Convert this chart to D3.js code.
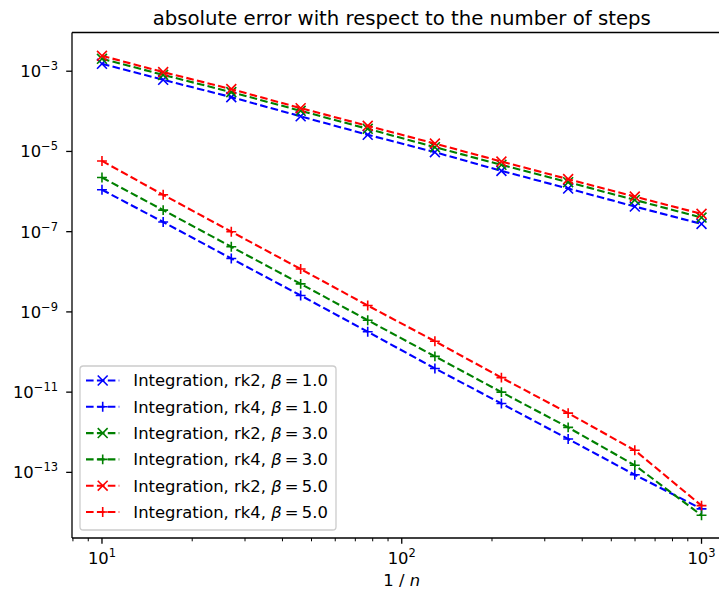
<!DOCTYPE html>
<html>
<head>
<meta charset="utf-8">
<script src="https://cdn.jsdelivr.net/npm/d3@7"></script>
<style>
html,body{margin:0;padding:0;background:#fff;}
svg{display:block;font-family:"DejaVu Sans",sans-serif;}
</style>
</head>
<body>
<svg id="chart" width="719" height="591"></svg>
<script>
// ---- data ----
const steps = [10, 16, 27, 46, 77, 129, 215, 359, 599, 1000];
const rk2_b1 = [1.53e-3, 6.1e-4, 2.26e-4, 7.5e-5, 2.6e-5, 9.6e-6, 3.28e-6, 1.19e-6, 4.23e-7, 1.56e-7];
const rk4_b1 = [1.11e-6, 1.74e-7, 2.14e-8, 2.57e-9, 3.2e-10, 3.9e-11, 5.2e-12, 6.8e-13, 8.7e-14, 1.23e-14];
const rk2_b3 = [2.04e-3, 8.1e-4, 3.01e-4, 1.03e-4, 3.66e-5, 1.28e-5, 4.63e-6, 1.71e-6, 6.18e-7, 2.25e-7];
const rk4_b3 = [2.24e-6, 3.45e-7, 4.2e-8, 5.0e-9, 6.2e-10, 7.8e-11, 1.0e-11, 1.32e-12, 1.5e-13, 8.5e-15];
const rk2_b5 = [2.42e-3, 9.5e-4, 3.58e-4, 1.20e-4, 4.35e-5, 1.57e-5, 5.6e-6, 2.04e-6, 7.5e-7, 2.78e-7];
const rk4_b5 = [5.8e-6, 8.3e-7, 1.0e-7, 1.17e-8, 1.44e-9, 1.86e-10, 2.3e-11, 3.0e-12, 3.55e-13, 1.48e-14];
const seriesNames = ["rk2", "rk4", "rk2", "rk4", "rk2", "rk4"];
const seriesBetas = ["1.0", "1.0", "3.0", "3.0", "5.0", "5.0"];
const seriesColors = ["#0000ff", "#0000ff", "#008000", "#008000", "#ff0000", "#ff0000"];
const seriesMarkers = ["x", "+", "x", "+", "x", "+"];
const seriesValues = [rk2_b1, rk4_b1, rk2_b3, rk4_b3, rk2_b5, rk4_b5];
const xMajorTicks = [10, 100, 1000];
const xMajorExp = ["1", "2", "3"];
const yMajorTicks = [1e-3, 1e-5, 1e-7, 1e-9, 1e-11, 1e-13];
const yMajorExp = ["\u22123", "\u22125", "\u22127", "\u22129", "\u221211", "\u221213"];
const titleText = "absolute error with respect to the number of steps";

// ---- layout ----
const L = 72, R = 731.5, T = 32.5, B = 538;
const FS = 16.4;
const svg = d3.select("#chart");

const x = d3.scaleLog().domain([Math.pow(10, 0.9), Math.pow(10, 3.1)]).range([L, R]);
const y = d3.scaleLog().domain([Math.pow(10, -14.636), Math.pow(10, -2.035)]).range([B, T]);

const clip = svg.append("defs").append("clipPath").attr("id", "clipArea")
  .append("rect").attr("x", L).attr("y", T).attr("width", R - L).attr("height", B - T);

const plot = svg.append("g").attr("clip-path", "url(#clipArea)");

const line = d3.line().x(d => x(d[0])).y(d => y(d[1]));

function markerPath(type, cx, cy, s) {
  const h = s / 2;
  if (type === "x") return `M${cx-h},${cy-h}L${cx+h},${cy+h}M${cx-h},${cy+h}L${cx+h},${cy-h}`;
  return `M${cx-h},${cy}L${cx+h},${cy}M${cx},${cy-h}L${cx},${cy+h}`;
}

seriesValues.forEach((vals, i) => {
  const pts = steps.map((s, j) => [s, vals[j]]);
  plot.append("path").attr("d", line(pts)).attr("fill", "none")
    .attr("stroke", seriesColors[i]).attr("stroke-width", 2.1)
    .attr("stroke-dasharray", "7.6,3.3");
  plot.append("path")
    .attr("d", pts.map(p => markerPath(seriesMarkers[i], x(p[0]), y(p[1]), 9.9)).join(""))
    .attr("stroke", seriesColors[i]).attr("stroke-width", 1.6).attr("fill", "none");
});

// ---- axes ----
const axG = svg.append("g");
// spines
axG.append("line").attr("x1", L).attr("x2", L).attr("y1", T).attr("y2", B).attr("stroke", "#000").attr("stroke-width", 1.3);
axG.append("line").attr("x1", L).attr("x2", R).attr("y1", B).attr("y2", B).attr("stroke", "#000").attr("stroke-width", 1.3);
axG.append("line").attr("x1", L).attr("x2", R).attr("y1", T).attr("y2", T).attr("stroke", "#000").attr("stroke-width", 1.3);
axG.append("line").attr("x1", R).attr("x2", R).attr("y1", T).attr("y2", B).attr("stroke", "#000").attr("stroke-width", 1.3);

// x ticks
const xMinor = [];
[1, 10, 100, 1000].forEach(d => { for (let k = 2; k <= 9; k++) { const v = d * k; if (v >= x.domain()[0] && v <= x.domain()[1]) xMinor.push(v); } });
xMinor.forEach(v => {
  axG.append("line").attr("x1", x(v)).attr("x2", x(v)).attr("y1", B).attr("y2", B + 3.3).attr("stroke", "#000").attr("stroke-width", 1.0);
});
xMajorTicks.forEach((v, i) => {
  axG.append("line").attr("x1", x(v)).attr("x2", x(v)).attr("y1", B).attr("y2", B + 5.8).attr("stroke", "#000").attr("stroke-width", 1.3);
  const t = axG.append("text").attr("x", x(v)).attr("y", 563.5).attr("text-anchor", "middle").attr("font-size", FS);
  t.append("tspan").text("10");
  t.append("tspan").attr("dy", -7).attr("font-size", FS * 0.7).text(xMajorExp[i]);
});

// y ticks
yMajorTicks.forEach((v, i) => {
  axG.append("line").attr("x1", L - 5.8).attr("x2", L).attr("y1", y(v)).attr("y2", y(v)).attr("stroke", "#000").attr("stroke-width", 1.3);
  const t = axG.append("text").attr("x", 58).attr("y", y(v) + 6).attr("text-anchor", "end").attr("font-size", FS);
  t.append("tspan").text("10");
  t.append("tspan").attr("dy", -7).attr("font-size", FS * 0.7).text(yMajorExp[i]);
});

// title & label
svg.append("text").attr("x", (L + R) / 2).attr("y", 25).attr("text-anchor", "middle")
  .attr("font-size", 19.7).text(titleText);
const xl = svg.append("text").attr("x", (L + R) / 2).attr("y", 586).attr("text-anchor", "middle").attr("font-size", FS);
xl.append("tspan").text("1 / ");
xl.append("tspan").attr("font-style", "italic").text("n");

// ---- legend ----
const lg = svg.append("g");
lg.append("rect").attr("x", 80).attr("y", 366).attr("width", 256).attr("height", 164)
  .attr("rx", 3.3).attr("ry", 3.3).attr("fill", "rgba(255,255,255,0.8)")
  .attr("stroke", "#cccccc").attr("stroke-width", 1.3);
seriesValues.forEach((vals, i) => {
  const cy = 380.5 + i * 26.3;
  lg.append("line").attr("x1", 86).attr("x2", 119.3).attr("y1", cy).attr("y2", cy)
    .attr("stroke", seriesColors[i]).attr("stroke-width", 2.1).attr("stroke-dasharray", "7.6,3.3");
  lg.append("path").attr("d", markerPath(seriesMarkers[i], 102.7, cy, 9.9))
    .attr("stroke", seriesColors[i]).attr("stroke-width", 1.6).attr("fill", "none");
  const t = lg.append("text").attr("x", 133.3).attr("y", cy + 5.8).attr("font-size", FS);
  t.append("tspan").text(`Integration, ${seriesNames[i]}, `);
  t.append("tspan").attr("font-style", "italic").text("\u03b2");
  t.append("tspan").text("\u2009=\u20091.0".replace("1.0", seriesBetas[i]));
});
</script>
</body>
</html>
